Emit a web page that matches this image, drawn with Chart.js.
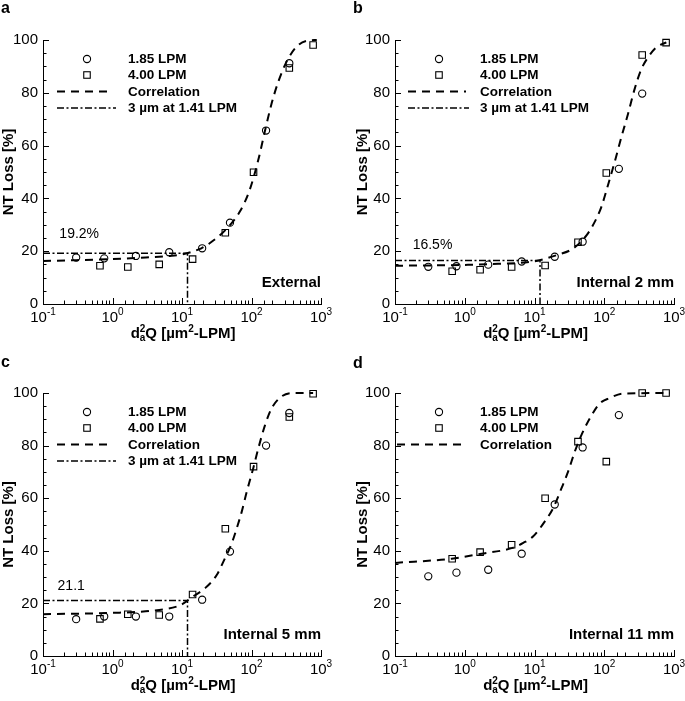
<!DOCTYPE html>
<html><head><meta charset="utf-8">
<script src="https://cdn.jsdelivr.net/npm/chart.js@4/dist/chart.umd.min.js"></script>
<style>
html,body{margin:0;padding:0;background:#fff;}
#wrap{position:relative;width:685px;height:701px;overflow:hidden;background:#fff;}
canvas{position:absolute;}
</style></head><body>
<div id="wrap">
<canvas id="ca" width="340" height="350" style="left:0;top:0"></canvas>
<canvas id="cb" width="345" height="350" style="left:340px;top:0"></canvas>
<canvas id="cc" width="340" height="351" style="left:0;top:350px"></canvas>
<canvas id="cd" width="345" height="351" style="left:340px;top:350px"></canvas>
</div>
<script>
const FONT = '"Liberation Sans", Arial, Helvetica, sans-serif';

// ---- axis tick labels ----
const xTickValues = [0.1, 1, 10, 100, 1000];
const xTickBase = '10';
const xTickExponents = ['-1', '0', '1', '2', '3'];
const yLabelStep = 20;

// ---- d_a^2 Q values of the measurements ----
const x185 = [0.30, 0.76, 2.17, 6.55, 19.5, 49, 162, 350];
const x400 = [0.66, 1.66, 4.7, 14.2, 42, 107, 350, 770];

// ---- (a) External ----
const extY185 = [17.6, 17.3, 18.2, 19.6, 21.1, 30.8, 65.7, 91.2];
const extY400 = [14.5, 14.0, 15.0, 17.0, 27.0, 49.9, 89.4, 98.1];
const extCorrX = [0.1, 0.3, 1, 3, 6.5, 10, 19, 25, 42, 68, 95, 125, 156, 195, 243, 320, 446, 622, 870];
const extCorrY = [16.3, 16.6, 17.0, 17.6, 18.2, 18.8, 21.1, 23.0, 28.0, 35.0, 43.5, 54.5, 65.5, 76.0, 84.2, 91.8, 97.5, 99.7, 100];

// ---- (b) Internal 2 mm ----
const intTwoY185 = [14.1, 14.3, 14.9, 16.1, 17.9, 23.6, 51.2, 79.7];
const intTwoY400 = [12.4, 13.0, 14.0, 14.6, 23.4, 49.6, 94.3, 99.0];
const intTwoCorrX = [0.1, 0.3, 1, 3, 10, 20.7, 35.7, 55.6, 73, 91, 113, 141, 176, 219, 273, 341, 424, 558, 776];
const intTwoCorrY = [14.5, 14.6, 14.8, 15.2, 16.2, 18.5, 21.0, 26.0, 31.1, 36.8, 45.0, 53.8, 63.2, 72.0, 81.5, 89.0, 93.4, 97.2, 99.1];

// ---- (c) Internal 5 mm ----
const intFiveY185 = [14.0, 15.0, 15.0, 15.0, 21.4, 39.7, 80.0, 92.4];
const intFiveY400 = [14.1, 15.9, 15.6, 23.4, 48.4, 72.0, 90.9, 99.7];
const intFiveCorrX = [0.1, 1, 3, 8.4, 10.5, 14, 21.5, 31.6, 39.4, 52, 61.4, 72.4, 85.5, 106, 125.5, 157, 195, 272, 398, 770];
const intFiveCorrY = [15.9, 16.4, 17.0, 18.8, 20.0, 22.4, 25.8, 30.8, 35.9, 42.9, 48.6, 54.9, 62.5, 71.4, 79.0, 87.9, 94.2, 98.7, 100, 100];

// ---- (d) Internal 11 mm ----
const intElevenY185 = [30.3, 31.7, 32.8, 38.9, 57.6, 79.3, 91.6];
const intElevenY400 = [37.0, 39.5, 42.3, 60.0, 81.5, 73.9, 100, 100];
const intElevenCorrX = [0.1, 0.65, 1.74, 4.7, 6.9, 9.6, 14, 18.5, 24.4, 30.3, 37.8, 47, 62, 86, 120, 186, 870];
const intElevenCorrY = [35.4, 37.0, 38.9, 41.0, 43.0, 45.5, 51.1, 56.2, 63.8, 70.1, 77.7, 84.0, 90.3, 96.0, 98.1, 99.8, 100];

// ---- 3 um at 1.41 LPM reference ----
const cutoffX = 12;
const cutoffLoss = [19.2, 16.5, 21.1];
const cutoffNotes = ['19.2%', '16.5%', '21.1'];

const seriesNames = ['1.85 LPM', '4.00 LPM', 'Correlation', '3 \u00b5m at 1.41 LPM'];
const panelNames = ['External', 'Internal 2 mm', 'Internal 5 mm', 'Internal 11 mm'];
const panelLetters = ['a', 'b', 'c', 'd'];

// ---- layout (pixels, not data) ----
const panels = [
  {id:'ca', W:340, H:350, padLeft:0, left:43, right:321, top:40, bottom:304, y185:extY185, y400:extY400, cx:extCorrX, cy:extCorrY, cut:0, noteX:0.172, noteY:26.5, leg:[14,70], letterX:1, letterY:13},
  {id:'cb', W:345, H:350, padLeft:14, left:55, right:334, top:40, bottom:304, y185:intTwoY185, y400:intTwoY400, cx:intTwoCorrX, cy:intTwoCorrY, cut:1, noteX:0.179, noteY:22.2, leg:[13,71], letterX:13, letterY:13},
  {id:'cc', W:340, H:351, padLeft:0, left:43, right:321, top:43, bottom:306, y185:intFiveY185, y400:intFiveY400, cx:intFiveCorrX, cy:intFiveCorrY, cut:2, noteX:0.162, noteY:26.6, leg:[14,70], letterX:1, letterY:17},
  {id:'cd', W:345, H:351, padLeft:14, left:55, right:334, top:43, bottom:306, y185:intElevenY185, y400:intElevenY400, cx:intElevenCorrX, cy:intElevenCorrY, cut:null, leg:[2,68], letterX:13, letterY:18}
];

const CIRC_R = 3.6, RECT_R = 4.6, MARK_W = 1.1;
const CORR_DASH = [8, 6], CORR_W = 2;
const CUT_DASH = [7, 2.5, 2, 2.5], CUT_W = 1.5;

function decor(p, idx) {
  return {
    id: 'decor' + idx,
    afterDraw(chart) {
      const ctx = chart.ctx, ca = chart.chartArea, xs = chart.scales.x, ys = chart.scales.y;
      ctx.save();
      // tick marks (inward)
      ctx.strokeStyle = '#000'; ctx.lineWidth = 1; ctx.setLineDash([]);
      ctx.beginPath();
      xs.ticks.forEach(t => {
        const lg = Math.log10(t.value);
        const major = Math.abs(lg - Math.round(lg)) < 1e-6;
        const px = Math.round(xs.getPixelForValue(t.value)) + 0.5;
        ctx.moveTo(px, ca.bottom); ctx.lineTo(px, ca.bottom - (major ? 6 : 3.5));
      });
      ys.ticks.forEach(t => {
        const major = t.value % yLabelStep === 0;
        const py = Math.round(ys.getPixelForValue(t.value)) + 0.5;
        ctx.moveTo(ca.left, py); ctx.lineTo(ca.left + (major ? 6 : 3.5), py);
      });
      ctx.stroke();

      ctx.fillStyle = '#000';
      ctx.textBaseline = 'alphabetic'; ctx.textAlign = 'left';
      // x tick labels 10^n
      xTickValues.forEach((v, i) => {
        const px = xs.getPixelForValue(v);
        ctx.font = '15px ' + FONT; const w1 = ctx.measureText(xTickBase).width;
        ctx.font = '10px ' + FONT; const w2 = ctx.measureText(xTickExponents[i]).width;
        const x0 = px - (w1 + w2) / 2, base = ca.bottom + 17.5;
        ctx.font = '15px ' + FONT; ctx.fillText(xTickBase, x0, base);
        ctx.font = '10px ' + FONT; ctx.fillText(xTickExponents[i], x0 + w1, base - 7);
      });

      // x axis title: d_a^2 Q [um^2-LPM]
      {
        const big = 'bold 15px ' + FONT, small = 'bold 10px ' + FONT;
        const parts = [['d', big, 0], ['2|a', small, 0], ['Q [\u00b5m', big, 0], ['2', small, -6], ['-LPM]', big, 0]];
        let total = 0;
        const widths = parts.map(pt => {
          ctx.font = pt[1];
          let w;
          if (pt[0] === '2|a') w = Math.max(ctx.measureText('2').width, ctx.measureText('a').width);
          else w = ctx.measureText(pt[0]).width;
          total += w; return w;
        });
        let x = (ca.left + ca.right) / 2 - total / 2 + 1;
        const base = ca.bottom + 34;
        parts.forEach((pt, i) => {
          ctx.font = pt[1];
          if (pt[0] === '2|a') {
            ctx.fillText('2', x, base - 6.5);
            ctx.fillText('a', x, base + 3);
          } else {
            ctx.fillText(pt[0], x, base + pt[2]);
          }
          x += widths[i];
        });
      }

      // legend
      const lx = ca.left, ty = ca.top;
      const symX = lx + 44, txtX = lx + 85;
      const rows = [ty + 19, ty + 35, ty + 51.5, ty + 68];
      ctx.lineWidth = MARK_W;
      ctx.beginPath(); ctx.arc(symX, rows[0], CIRC_R, 0, Math.PI * 2); ctx.stroke();
      const s = Math.SQRT1_2 * RECT_R;
      ctx.strokeRect(symX - s, rows[1] - s, 2 * s, 2 * s);
      ctx.lineWidth = CORR_W; ctx.setLineDash(CORR_DASH);
      ctx.beginPath(); ctx.moveTo(lx + p.leg[0], rows[2]); ctx.lineTo(lx + p.leg[1], rows[2]); ctx.stroke();
      const nRows = p.cut === null ? 3 : 4;
      if (p.cut !== null) {
        ctx.lineWidth = CUT_W; ctx.setLineDash(CUT_DASH);
        ctx.beginPath(); ctx.moveTo(lx + p.leg[0], rows[3]); ctx.lineTo(lx + p.leg[1] + 3, rows[3]); ctx.stroke();
      }
      ctx.setLineDash([]);
      ctx.font = 'bold 13.5px ' + FONT; ctx.textBaseline = 'middle';
      for (let i = 0; i < nRows; i++) ctx.fillText(seriesNames[i], txtX, rows[i] + 0.5);

      // panel name
      ctx.font = 'bold 15px ' + FONT; ctx.textAlign = 'right';
      ctx.fillText(panelNames[idx], ca.right, ca.bottom - 21);

      // cutoff note
      if (p.cut !== null) {
        ctx.font = '14px ' + FONT; ctx.textAlign = 'left';
        ctx.fillText(cutoffNotes[p.cut], xs.getPixelForValue(p.noteX), ys.getPixelForValue(p.noteY));
      }

      // panel letter
      ctx.font = 'bold 16px ' + FONT; ctx.textAlign = 'left'; ctx.textBaseline = 'alphabetic';
      ctx.fillText(panelLetters[idx], p.letterX, p.letterY);
      ctx.restore();
    }
  };
}

panels.forEach((p, idx) => {
  const datasets = [
    {label: seriesNames[0], data: p.y185.map((y, i) => ({x: x185[i], y})), showLine: false,
     pointStyle: 'circle', pointRadius: CIRC_R, pointBorderWidth: MARK_W, borderColor: '#000',
     pointBackgroundColor: 'rgba(0,0,0,0)', backgroundColor: 'rgba(0,0,0,0)', clip: false},
    {label: seriesNames[1], data: p.y400.map((y, i) => ({x: x400[i], y})), showLine: false,
     pointStyle: 'rect', pointRadius: RECT_R, pointBorderWidth: MARK_W, borderColor: '#000',
     pointBackgroundColor: 'rgba(0,0,0,0)', backgroundColor: 'rgba(0,0,0,0)', clip: false},
    {label: seriesNames[2], data: p.cx.map((x, i) => ({x, y: p.cy[i]})), showLine: true,
     borderColor: '#000', borderWidth: CORR_W, borderDash: CORR_DASH, pointRadius: 0,
     cubicInterpolationMode: 'monotone', fill: false, clip: false}
  ];
  if (p.cut !== null) {
    const c = cutoffLoss[p.cut];
    datasets.push({label: seriesNames[3], data: [{x: 0.1, y: c}, {x: cutoffX, y: c}, {x: cutoffX, y: 0}],
      showLine: true, borderColor: '#000', borderWidth: CUT_W, borderDash: CUT_DASH, pointRadius: 0,
      tension: 0, fill: false, clip: false});
  }
  const xHeight = p.H - p.bottom;
  const yWidth = p.left - p.padLeft;
  new Chart(document.getElementById(p.id), {
    type: 'scatter',
    data: {datasets},
    options: {
      responsive: false, animation: false, devicePixelRatio: 1, events: [],
      layout: {padding: {left: p.padLeft, right: p.W - p.right, top: p.top, bottom: 0}},
      plugins: {legend: {display: false}, tooltip: {enabled: false}, title: {display: false}},
      scales: {
        x: {type: 'logarithmic', min: 0.1, max: 1000, position: 'bottom',
            grid: {display: false, drawTicks: false}, border: {display: true, color: '#000', width: 1},
            ticks: {display: false},
            afterFit: s => { s.height = xHeight; s.paddingLeft = 0; s.paddingRight = 0; }},
        y: {type: 'linear', min: 0, max: 100, position: 'left',
            grid: {display: false, drawTicks: false}, border: {display: true, color: '#000', width: 1},
            ticks: {stepSize: 5, autoSkip: false, color: '#000', padding: 5,
                    font: {family: FONT, size: 15},
                    callback: v => (v % yLabelStep === 0 ? String(v) : '')},
            title: {display: true, text: 'NT Loss [%]', color: '#000', padding: 0,
                    font: {family: FONT, size: 15, weight: 'bold'}},
            afterFit: s => { s.width = yWidth; s.paddingTop = 0; s.paddingBottom = 0; }}
      }
    },
    plugins: [decor(p, idx)]
  });
});
</script>
</body></html>
